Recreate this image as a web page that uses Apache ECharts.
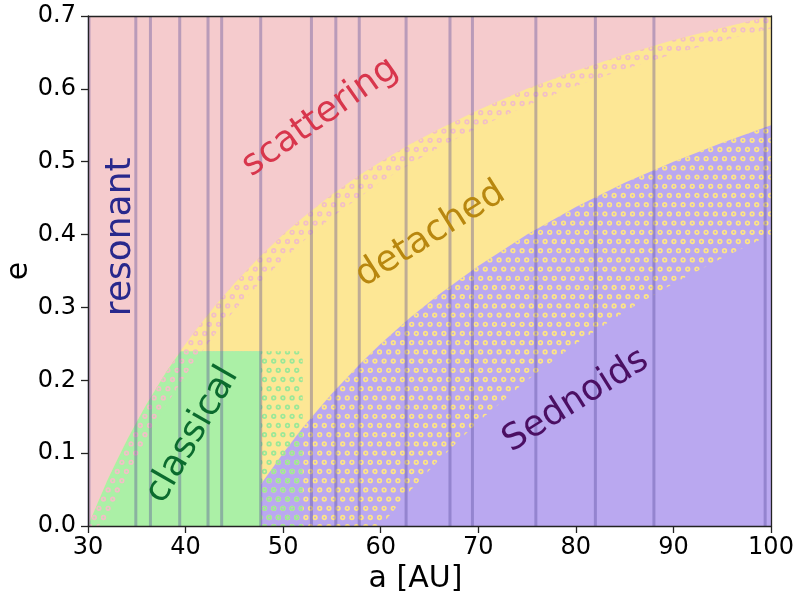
<!DOCTYPE html>
<html><head><meta charset="utf-8">
<script src="https://cdn.jsdelivr.net/npm/echarts@6/dist/echarts.min.js"></script>
<style>html,body{margin:0;padding:0;background:#fff}#c{width:794px;height:596px}</style>
</head><body><div id="c"></div>
<script>
// ---- data ----
const aGrid = [30, 31, 32, 33, 34, 35, 36, 37, 38, 39.5, 41, 43, 45, 47.7, 50, 52, 55, 58, 60, 63, 66, 70, 75, 80, 85, 90, 95, 100];
// upper edge of the detached region (scattering boundary)
const eScatterEdge = [0, 0.032, 0.063, 0.091, 0.118, 0.143, 0.167, 0.189, 0.211, 0.241, 0.268, 0.302, 0.333, 0.371, 0.400, 0.423, 0.455, 0.483, 0.500, 0.524, 0.545, 0.571, 0.600, 0.625, 0.647, 0.667, 0.684, 0.700];
// lower edge of the dotted (uncertain) scattering band
const eScatterFuzz = [0, 0, 0.009, 0.039, 0.068, 0.094, 0.119, 0.143, 0.166, 0.197, 0.227, 0.263, 0.296, 0.335, 0.366, 0.390, 0.424, 0.453, 0.472, 0.497, 0.520, 0.547, 0.577, 0.604, 0.627, 0.648, 0.666, 0.683];
const aSedna = [45, 47.7, 50, 52, 55, 58, 60, 63, 66, 70, 75, 80, 85, 90, 95, 100];
const eSednaEdge = [0, 0.057, 0.100, 0.135, 0.182, 0.224, 0.250, 0.286, 0.318, 0.357, 0.400, 0.438, 0.471, 0.500, 0.526, 0.550];
const eSednaFuzz = [0, 0, 0, 0, 0, 0, 0, 0.048, 0.091, 0.143, 0.200, 0.250, 0.294, 0.333, 0.368, 0.400];
const aClassical = [30, 31, 32, 33, 34, 35, 36, 37, 38, 39.5, 47.7, 47.7];
const eClassical = [0, 0.032, 0.063, 0.091, 0.118, 0.143, 0.167, 0.189, 0.211, 0.240, 0.240, 0];
const aClassicalInner = [31, 32, 33, 34, 35, 36, 37, 38, 39.5, 41, 41.7, 47.7, 47.7];
const eClassicalInner = [0, 0.009, 0.039, 0.068, 0.094, 0.119, 0.143, 0.166, 0.197, 0.227, 0.240, 0.240, 0];
const aClassicalFuzz = [47.7, 52];
const eClassicalFuzz = [0.24, 0.24];
const resonances = [30.1, 34.9, 36.4, 39.4, 42.3, 43.7, 47.7, 52.9, 55.4, 57.8, 62.6, 67.1, 69.4, 75.9, 82.0, 88.0, 99.4];
const xTickLabels = ['30', '40', '50', '60', '70', '80', '90', '100'];
const yTickLabels = ['0.0', '0.1', '0.2', '0.3', '0.4', '0.5', '0.6', '0.7'];
const regionNames = ['resonant', 'scattering', 'detached', 'classical', 'Sednoids'];

// ---- styling / layout ----
const FONT = 'DejaVu Sans';
const PINK = '#f5cbcd', YELLOW = '#fde795', PURPLE = '#baa8f0', GREEN = '#abf0a6';
const regionLayout = [
  {at: [33.3, 0.397], rot: 90, color: '#28288c'},
  {at: [53.8, 0.561], rot: 35, color: '#d8364c'},
  {at: [65.1, 0.400], rot: 32, color: '#b8870f'},
  {at: [40.7, 0.125], rot: 60, color: '#0b6b2e'},
  {at: [80.0, 0.172], rot: 32, color: '#4b0f63'}
];

function ringPattern(color) {
  const s = 9.2, W = 46, H = 92;
  const c = document.createElement('canvas');
  c.width = W; c.height = H;
  const g = c.getContext('2d');
  g.strokeStyle = color; g.lineWidth = 1.7;
  for (let r = 0; r < 10; r++) {
    for (let k = 0; k < 5; k++) {
      const x = k * s + (r % 2 ? s / 2 : 0) + 2.3, y = r * s + 2.3;
      for (const dx of [-W, 0, W]) for (const dy of [-H, 0, H]) {
        g.beginPath(); g.arc(x + dx, y + dy, 1.8, 0, Math.PI * 2); g.stroke();
      }
    }
  }
  return {image: c, repeat: 'repeat'};
}

const zip = (xs, ys) => xs.map((x, i) => [x, ys[i]]);
function area(name, xs, ys, fill) {
  return {type: 'line', name: name, symbol: 'none', showSymbol: false, silent: true, animation: false,
    lineStyle: {width: 0, opacity: 0}, emphasis: {disabled: true},
    data: zip(xs, ys), areaStyle: {color: fill, opacity: 1}};
}

const series = [
  area('detached', aGrid, eScatterEdge, YELLOW),
  area('scatterFuzz', aGrid, eScatterEdge, ringPattern('#f2bfc6')),
  area('detachedCore', aGrid, eScatterFuzz, YELLOW),
  area('Sednoids', aSedna, eSednaEdge, PURPLE),
  area('sednaFuzz', aSedna, eSednaEdge, ringPattern('#fde485')),
  area('sednaCore', aSedna, eSednaFuzz, PURPLE),
  area('classical', aClassical, eClassical, GREEN),
  area('classicalScatterFuzz', aClassical, eClassical, ringPattern('#f2bfc6')),
  area('classicalCore', aClassicalInner, eClassicalInner, GREEN),
  area('classicalFuzz', aClassicalFuzz, eClassicalFuzz, ringPattern('#9be898'))
];
resonances.forEach((a, i) => {
  series.push({type: 'line', name: 'res' + i, symbol: 'none', showSymbol: false, silent: true, animation: false,
    emphasis: {disabled: true}, data: [[a, 0], [a, 0.7]],
    lineStyle: {width: 3, color: 'rgba(80,70,150,0.36)', opacity: 1}});
});

const axisCommon = {
  z: 10,
  splitLine: {show: false},
  axisLine: {show: true, onZero: false, lineStyle: {color: '#222', width: 1.3}},
  axisTick: {show: true, length: 7, lineStyle: {color: '#222', width: 1.3}},
};
const chart = echarts.init(document.getElementById('c'), null, {renderer: 'canvas'});
chart.setOption({
  animation: false,
  grid: {left: 88, right: 23, top: 16, bottom: 70, show: true, backgroundColor: PINK, borderWidth: 0,
    containLabel: false, outerBoundsMode: 'none'},
  xAxis: [
    Object.assign({}, axisCommon, {type: 'value', min: 30, max: 100, interval: 10, position: 'bottom',
      axisLabel: {color: '#000', fontSize: 24, fontFamily: FONT, margin: 10,
        formatter: v => xTickLabels[Math.round((v - 30) / 10)]},
      name: 'a [AU]', nameLocation: 'middle', nameGap: 38, nameMoveOverlap: false,
      nameTextStyle: {color: '#000', fontSize: 30, fontFamily: FONT, padding: [0, 28, 0, 0]}}),
    Object.assign({}, axisCommon, {type: 'value', min: 30, max: 100, position: 'top',
      axisTick: {show: false}, axisLabel: {show: false}})
  ],
  yAxis: [
    Object.assign({}, axisCommon, {type: 'value', min: 0, max: 0.7, interval: 0.1, position: 'left',
      axisLabel: {color: '#000', fontSize: 24, fontFamily: FONT, margin: 12,
        formatter: v => yTickLabels[Math.round(v * 10)]},
      name: 'e', nameLocation: 'middle', nameGap: 54, nameRotate: 90, nameMoveOverlap: false,
      nameTextStyle: {color: '#000', fontSize: 30, fontFamily: FONT}}),
    Object.assign({}, axisCommon, {type: 'value', min: 0, max: 0.7, position: 'right',
      axisTick: {show: false}, axisLabel: {show: false}})
  ],
  series: series
});

const graphic = regionNames.map((name, i) => {
  const L = regionLayout[i];
  const p = chart.convertToPixel({xAxisIndex: 0, yAxisIndex: 0}, L.at);
  return {type: 'text', x: p[0], y: p[1], rotation: L.rot * Math.PI / 180, z: 100, silent: true,
    style: {text: name, x: 0, y: 0, align: 'center', verticalAlign: 'middle',
      fill: L.color, fontSize: 36, fontFamily: FONT}};
});
chart.setOption({graphic: graphic});
</script>
</body></html>
